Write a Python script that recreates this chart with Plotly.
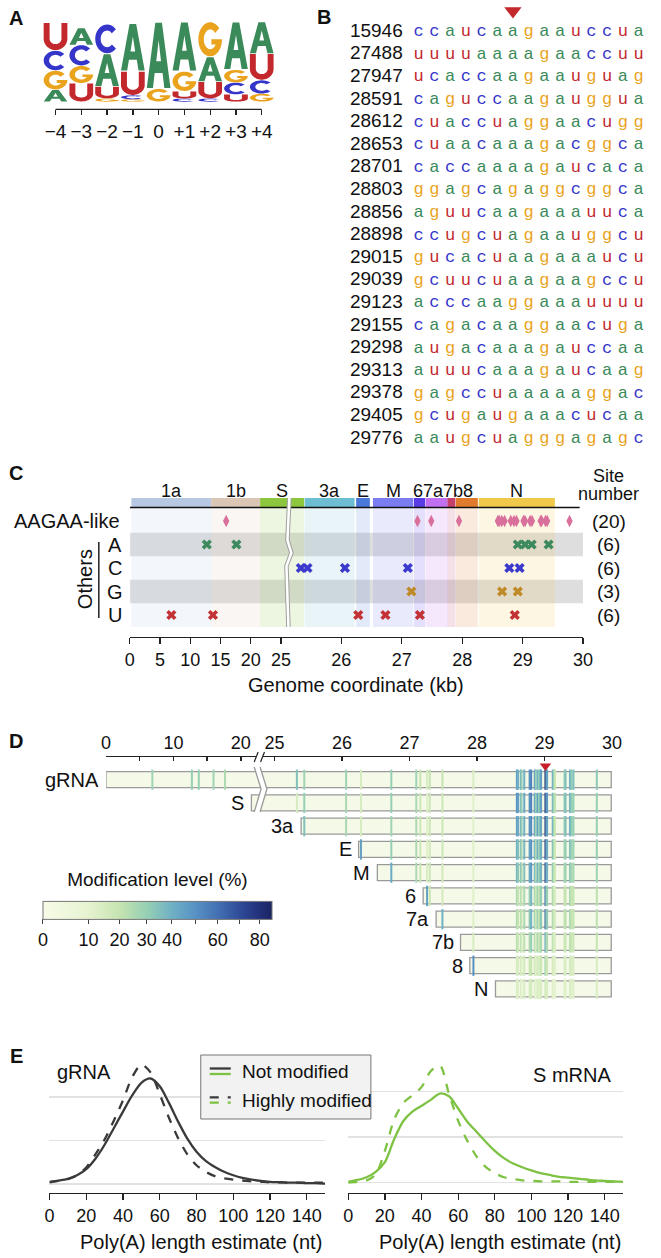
import numpy as np
import plotly.graph_objects as go

W, H = 661, 1258
FONT = "Liberation Sans, Arial, Helvetica, sans-serif"
MONO = "Liberation Mono, DejaVu Sans Mono, monospace"

# ======================= DATA =======================
# --- Panel A: sequence logo (letter heights as fraction of column)
logo_ticks = ["−4", "−3", "−2", "−1", "0", "+1", "+2", "+3", "+4"]
logo_stack = ["AGCU", "UGCA", "GUAC", "GCUA", "GA", "CUGA", "CUAG", "UCGA", "GCUA"]
logo_A = [0.15, 0.21, 0.41, 0.60, 0.84, 0.62, 0.31, 0.60, 0.40]
logo_C = [0.25, 0.26, 0.37, 0.05, 0.00, 0.04, 0.04, 0.15, 0.17]
logo_G = [0.24, 0.22, 0.04, 0.03, 0.16, 0.25, 0.44, 0.16, 0.10]
logo_U = [0.35, 0.23, 0.15, 0.30, 0.00, 0.09, 0.21, 0.09, 0.33]

# --- Panel B: sequences around sites
site_ids = ["15946", "27488", "27947", "28591", "28612", "28653", "28701", "28803",
            "28856", "28898", "29015", "29039", "29123", "29155", "29298", "29313",
            "29378", "29405", "29776"]
site_seqs = ["ccaucaagaauccua", "uuuuaaaagaaccuu", "ucaccaagaauguag", "caguccaagauggua",
             "cuaccuaggaacugg", "cuaacaaagacggca", "caccaaaagaucaca", "ggagcagaggcggca",
             "aguucaagaaauuca", "ccugcuagaauggcu", "gucacuaagaaaucu", "gcuucuaagaagccu",
             "acccaaggaaauuuu", "cagacaaggaacuga", "augacaaagauccaa", "auuucaaagaucaag",
             "gagccuaaaaaggac", "gcugaugaaacucaa", "aaugcuagggagagc"]
mod_col = 7

# --- Panel C: genes and sites (kb)
gene_names = ["1a", "1b", "S", "3a", "E", "M", "6", "7a", "7b", "8", "N"]
gene_start = [0.266, 13.468, 21.563, 25.393, 26.245, 26.523, 27.202, 27.394, 27.756, 27.894, 28.274]
gene_end = [13.483, 21.555, 25.384, 26.220, 26.472, 27.191, 27.387, 27.759, 27.887, 28.259, 29.533]
gene_colors = ["#b7c9e2", "#dbc6b6", "#8cc63f", "#6dbdd3", "#4a78d8", "#7b7cf0",
               "#5a3ce6", "#c070f0", "#c6406e", "#e07b2e", "#f0c84a"]
aagaa_sites = [15.946, 27.26, 27.488, 27.947, 28.591, 28.612, 28.653, 28.701, 28.803, 28.856,
               28.898, 29.015, 29.039, 29.123, 29.155, 29.298, 29.313, 29.378, 29.405, 29.776]
others_A = [12.74, 17.64, 28.92, 29.04, 29.15, 29.43]
others_C = [25.33, 25.44, 26.06, 27.10, 28.78, 28.95]
others_G = [27.16, 28.66, 28.92]
others_U = [6.88, 13.76, 26.28, 26.73, 27.30, 28.87]
c_ticks_kb = [0, 5, 10, 15, 20, 25, 26, 27, 28, 29, 30]

# --- Panel D: modification levels (%) per RNA at each site
rna_names = ["gRNA", "S", "3a", "E", "M", "6", "7a", "7b", "8", "N"]
rna_start = [0.0, 21.563, 25.393, 26.245, 26.523, 27.202, 27.394, 27.756, 27.894, 28.274]
genome_end = 29.99
top_site = 29.015
mod_sites = [6.88, 12.74, 13.76, 15.946, 17.64, 25.33, 25.44, 26.06, 26.28, 26.73,
             27.10, 27.16, 27.26, 27.30, 27.488, 27.947, 28.591, 28.612, 28.653, 28.66,
             28.701, 28.78, 28.803, 28.856, 28.87, 28.898, 28.92, 28.94, 28.95, 29.015,
             29.03, 29.039, 29.123, 29.14, 29.155, 29.298, 29.313, 29.378, 29.405, 29.43, 29.776]
lvl_gRNA = [28, 30, 30, 28, 25, 35, 28, 28, 15, 30, 28, 20, 15, 20, 20, 14, 45, 40, 45, 30,
            40, 50, 55, 50, 30, 40, 30, 40, 45, 82, 40, 45, 40, 30, 20, 30, 35, 40, 30, 35, 32]
lvl_S = [None] * 5 + [15, 30, 26, 15, 30, 26, 18, 12, 18, 18, 12, 50, 45, 40, 30, 42, 50, 55,
                      48, 30, 45, 30, 38, 45, 80, 42, 48, 38, 28, 22, 32, 35, 38, 30, 30, 30]
lvl_3a = [None] * 6 + [35, 26, 15, 28, 25, 18, 12, 18, 18, 12, 45, 42, 45, 30, 40, 50, 52, 48,
                       28, 45, 30, 38, 42, 80, 40, 45, 40, 28, 20, 30, 35, 40, 30, 30, 30]
lvl_E = [None] * 8 + [45, 30, 25, 18, 12, 16, 18, 12, 40, 35, 40, 25, 38, 45, 50, 42, 25, 40,
                      28, 35, 40, 75, 38, 42, 35, 25, 18, 28, 30, 35, 28, 28, 30]
lvl_M = [None] * 9 + [42, 25, 18, 14, 18, 16, 12, 38, 32, 40, 25, 35, 42, 48, 40, 25, 38, 28,
                      35, 38, 72, 36, 40, 32, 22, 18, 26, 28, 32, 26, 26, 28]
lvl_6 = [None] * 12 + [45, 20, 16, 12, 25, 20, 28, 18, 25, 30, 38, 28, 18, 28, 20, 25, 30, 60,
                       28, 30, 25, 18, 15, 20, 20, 25, 20, 20, 22]
lvl_7a = [None] * 14 + [40, 12, 25, 20, 28, 18, 25, 32, 40, 30, 18, 28, 20, 25, 32, 62, 28, 32,
                        25, 18, 15, 20, 22, 25, 20, 20, 22]
lvl_7b = [None] * 15 + [15, 22, 18, 25, 15, 22, 25, 30, 25, 15, 25, 18, 22, 25, 42, 25, 25, 22,
                        15, 14, 18, 18, 22, 18, 18, 20]
lvl_8 = [None] * 15 + [50, 15, 14, 18, 12, 16, 18, 20, 18, 12, 16, 14, 15, 18, 28, 16, 18, 16,
                       12, 12, 14, 14, 16, 14, 14, 15]
lvl_N = [None] * 16 + [14, 12, 15, 10, 14, 15, 16, 14, 10, 14, 12, 12, 14, 18, 12, 14, 12, 10,
                       10, 12, 12, 14, 12, 12, 14]
cb_ticks = [0, 10, 20, 30, 40, 50, 60, 70, 80]
cb_text = ["0", "10", "20", "30", "40", "", "60", "", "80"]
cb_max = 86
d_ticks_kb = [0, 5, 10, 15, 20, 25, 26, 27, 28, 29, 30]
d_tick_text = ["0", "", "10", "", "20", "25", "26", "27", "28", "29", "30"]

# --- Panel E: poly(A) length density
polyA_nt = [0, 5, 10, 15, 20, 25, 30, 35, 40, 45, 50, 55, 60, 65, 70, 75, 80, 85, 90, 95,
            100, 105, 110, 115, 120, 125, 130, 135, 140, 145, 150]
grna_not = [0.5, 0.8, 1.2, 2.0, 3.4, 5.8, 9.0, 12.8, 16.6, 20.3, 23.2, 24.2, 22.4, 18.6, 14.3,
            10.4, 7.4, 5.3, 3.9, 2.8, 2.0, 1.4, 1.0, 0.7, 0.5, 0.4, 0.3, 0.3, 0.2, 0.2, 0.1]
grna_high = [0.4, 0.7, 1.1, 2.0, 3.8, 6.8, 10.2, 14.5, 19.2, 24.5, 27.4, 25.6, 20.6, 15.2, 10.5,
             6.8, 4.3, 2.8, 1.8, 1.3, 1.0, 0.8, 0.6, 0.5, 0.4, 0.4, 0.3, 0.3, 0.3, 0.3, 0.3]
s_not = [0.2, 0.6, 1.2, 2.4, 4.5, 9.5, 13.5, 15.6, 16.9, 18.2, 19.6, 19.0, 16.3, 13.4, 11.2,
         9.0, 7.0, 5.4, 4.2, 3.4, 2.7, 2.1, 1.7, 1.3, 1.1, 0.9, 0.7, 0.5, 0.4, 0.3, 0.2]
s_high = [0.0, 0.2, 0.5, 1.8, 7.0, 13.8, 17.5, 19.2, 21.0, 24.5, 25.8, 19.5, 13.6, 9.2, 5.8,
          3.5, 2.1, 1.2, 0.8, 0.5, 0.4, 0.3, 0.3, 0.3, 0.2, 0.2, 0.2, 0.2, 0.2, 0.2, 0.2]
e_ticks = [0, 20, 40, 60, 80, 100, 120, 140]

# ======================= HELPERS =======================
NUC_COL = {"A": "#3b8a5a", "C": "#3535c9", "G": "#e9a31d", "U": "#c3282d"}
CS = [[0, "#f7fbe8"], [0.2, "#e6f3d0"], [0.336, "#c5e4b0"], [0.455, "#95cfb4"],
      [0.565, "#6fb0c5"], [0.66, "#5893c4"], [0.768, "#436fb2"], [0.86, "#2f4b98"],
      [0.95, "#212f78"], [1, "#1b2563"]]
CMAX = cb_max ** 0.75
DARK = "#3a3a3a"
GREEN = "#7dc242"
LABEL_NUDGE = {"6": -1.5, "7a": -3.5, "7b": 2.0, "8": 1.5}


def disp(kb):
    kb = np.asarray(kb, dtype=float)
    return np.where(kb <= 25, kb, 25 + (kb - 25) * 10)


def lin_range(p_lo, p_hi, v1, p1, v2, p2):
    s = (v2 - v1) / (p2 - p1)
    return [v1 + (p_lo - p1) * s, v1 + (p_hi - p1) * s]


def px_val(p, v1, p1, v2, p2):
    return v1 + (p - p1) * (v2 - v1) / (p2 - p1)


def xdom(a, b):
    return [a / W, b / W]


def ydom(top, bottom):
    return [1 - bottom / H, 1 - top / H]


def PX(p):
    return p / W


def PY(p):
    return 1 - p / H


def rgba(hx, a):
    hx = hx.lstrip("#")
    r, g, b = int(hx[0:2], 16), int(hx[2:4], 16), int(hx[4:6], 16)
    return f"rgba({r},{g},{b},{a})"


def ann(x, y, text, size=20, xanchor="center", yanchor="middle", **kw):
    d = dict(x=PX(x), y=PY(y), xref="paper", yref="paper", text=text, showarrow=False,
             font=dict(size=size, family=FONT, color="#111"), xanchor=xanchor, yanchor=yanchor)
    d.update(kw)
    return d


def arc(cx, cy, rx, ry, a0, a1, n=30):
    t = np.radians(np.linspace(a0, a1, n))
    return list(zip(cx + rx * np.cos(t), cy + ry * np.sin(t)))


GLYPHS = {
    "A": [[(0, 0), (0.36, 1), (0.64, 1), (1, 0), (0.74, 0), (0.665, 0.23), (0.335, 0.23), (0.26, 0)],
          [(0.40, 0.41), (0.60, 0.41), (0.5, 0.73)]],
    "C": [arc(.5, .5, .5, .5, 42, 318) + arc(.5, .5, .27, .29, 318, 42)],
    "G": [arc(.5, .5, .5, .5, 40, 360) + [(0.55, 0.5), (0.55, 0.35)] + arc(.5, .5, .27, .29, 328.9, 40)],
    "U": [[(0, 1), (0.25, 1)] + arc(.5, .42, .25, .2, 180, 360) + [(0.75, 1), (1, 1)]
          + arc(.5, .42, .5, .42, 0, -180)],
}


def glyph_path(letter, xc, y0, h, wf=0.92):
    out = ""
    for ring in GLYPHS[letter]:
        pts = [(xc - wf / 2 + gx * wf, y0 + h * (0.015 + 0.97 * gy)) for gx, gy in ring]
        out += "M" + "L".join(f"{x:.4f},{y:.5f}" for x, y in pts) + "Z"
    return out


def path_px(points):
    return "M" + "L".join(f"{PX(x):.5f},{PY(y):.5f}" for x, y in points)


traces, shapes, annots = [], [], []

# ======================= PANEL A =======================
logo_h = {"A": logo_A, "C": logo_C, "G": logo_G, "U": logo_U}
for i, order in enumerate(logo_stack):
    xc = i - 4
    y0 = 0.0
    for nuc in order:
        h = logo_h[nuc][i]
        if h > 0:
            shapes.append(dict(type="path", path=glyph_path(nuc, xc, y0, h), xref="x", yref="y",
                               fillcolor=NUC_COL[nuc], line=dict(width=0), layer="above"))
        y0 += h
shapes.append(dict(type="line", xref="x", yref="paper", x0=-4, x1=4, y0=PY(109.3), y1=PY(109.3),
                   line=dict(color="#222", width=1.3)))
traces.append(go.Scatter(x=[-4, 4], y=[0, 0], mode="markers", marker=dict(opacity=0),
                         xaxis="x", yaxis="y", hoverinfo="skip", showlegend=False))

# ======================= PANEL B =======================
bx, by, bt, bc = [], [], [], []
for r, s in enumerate(site_seqs):
    for j, ch in enumerate(s):
        bx.append(j + 1)
        by.append(r)
        bt.append(ch)
        bc.append(NUC_COL[ch.upper()])
traces.append(go.Scatter(x=bx, y=by, text=bt, mode="text", cliponaxis=False,
                         textfont=dict(family=MONO, size=17, color=bc),
                         xaxis="x2", yaxis="y2", hoverinfo="skip", showlegend=False))
xnum = px_val(407, 1, 423.3, 15, 648.3)
traces.append(go.Scatter(x=[xnum] * len(site_ids), y=list(range(len(site_ids))), text=site_ids,
                         mode="text", textposition="middle left", cliponaxis=False,
                         textfont=dict(family=FONT, size=19, color="#111"),
                         xaxis="x2", yaxis="y2", hoverinfo="skip", showlegend=False))
traces.append(go.Scatter(x=[mod_col], y=[px_val(11, 0, 32, 18, 438.8)], mode="markers",
                         marker=dict(symbol="triangle-down", size=15, color="#c3282d"),
                         cliponaxis=False, xaxis="x2", yaxis="y2", hoverinfo="skip", showlegend=False))

# ======================= PANEL C =======================
gs, ge = disp(gene_start), disp(gene_end)
for r in (1, 3):
    shapes.append(dict(type="rect", xref="x3", yref="y3", x0=0, x1=75, y0=r - 0.5, y1=r + 0.5,
                       fillcolor="#dedede", line=dict(width=0), layer="below"))
for a, b, c in zip(gs, ge, gene_colors):
    shapes.append(dict(type="rect", xref="x3", yref="y3", x0=float(a), x1=float(b), y0=-0.574,
                       y1=4.51, fillcolor=rgba(c, 0.16), line=dict(width=0), layer="below"))
shapes.append(dict(type="line", xref="x3", yref="y3", x0=0, x1=px_val(588, 0, 127.7, 75, 591.5),
                   y0=-0.574, y1=-0.574, line=dict(color="#111", width=1.4)))
traces.append(go.Bar(orientation="h", y=[-0.787] * len(gene_names), base=gs, x=ge - gs, width=0.383,
                     marker=dict(color=gene_colors, line=dict(width=0)), xaxis="x3", yaxis="y3",
                     hoverinfo="skip", showlegend=False))
for nm, a, b in zip(gene_names, gs, ge):
    annots.append(dict(x=float((a + b) / 2), xref="x3", y=PY(491), yref="paper", text=nm,
                       showarrow=False, xanchor="center", xshift=LABEL_NUDGE.get(nm, 0),
                       font=dict(size=18, family=FONT, color="#111")))
traces.append(go.Scatter(x=disp(aagaa_sites), y=[0] * len(aagaa_sites), mode="markers",
                         marker=dict(symbol="diamond-tall", size=9, color="#d9709c"),
                         xaxis="x3", yaxis="y3", hoverinfo="skip", showlegend=False))
other_sets = [("A", others_A, 1, "#3e8a5f"), ("C", others_C, 2, "#3c3acd"),
              ("G", others_G, 3, "#c08a28"), ("U", others_U, 4, "#c33235")]
for nm, arr, row, col in other_sets:
    traces.append(go.Scatter(x=disp(arr), y=[row] * len(arr), mode="markers",
                             marker=dict(symbol="x", size=9, color=col, line=dict(width=0)),
                             xaxis="x3", yaxis="y3", hoverinfo="skip", showlegend=False))
annots.append(dict(x=PX(120), xref="paper", y=0, yref="y3", text="AAGAA-like", showarrow=False,
                   xanchor="right", font=dict(size=20, family=FONT, color="#111")))
counts = [len(aagaa_sites)] + [len(s[1]) for s in other_sets]
for row, cnt in enumerate(counts):
    annots.append(dict(x=PX(617.6), xref="paper", y=row, yref="y3", text=f"({cnt})",
                       showarrow=False, xanchor="center",
                       font=dict(size=19, family=FONT, color="#111")))
for nm, arr, row, col in other_sets:
    annots.append(dict(x=PX(113), xref="paper", y=row, yref="y3", text=nm, showarrow=False,
                       xanchor="center", font=dict(size=20, family=FONT, color="#111")))
annots.append(ann(82, 579, "Others", textangle=-90))
shapes.append(dict(type="line", xref="paper", yref="paper", x0=PX(96), x1=PX(96), y0=PY(542),
                   y1=PY(618), line=dict(color="#111", width=1.4)))
annots.append(ann(617.6, 476, "Site", size=18))
annots.append(ann(617.6, 494, "number", size=18))
annots.append(ann(359.6, 685, "Genome coordinate (kb)"))
zz = [(291, 498), (289, 540), (293, 553), (288, 566), (290, 627)]
shapes.append(dict(type="path", xref="paper", yref="paper", path=path_px(zz),
                   line=dict(color="#a0a0a0", width=4.5)))
shapes.append(dict(type="path", xref="paper", yref="paper", path=path_px(zz),
                   line=dict(color="#ffffff", width=2.5)))

# ======================= PANEL D =======================
rs = disp(rna_start)
re_ = disp([genome_end] * len(rna_names))
traces.append(go.Bar(orientation="h", y=list(range(len(rna_names))), base=rs, x=re_ - rs, width=0.69,
                     marker=dict(color="#f5fae8", line=dict(color="#9a9a9a", width=1.3)),
                     xaxis="x4", yaxis="y4", hoverinfo="skip", showlegend=False))
levels = [lvl_gRNA, lvl_S, lvl_3a, lvl_E, lvl_M, lvl_6, lvl_7a, lvl_7b, lvl_8, lvl_N]
cbar = dict(orientation="h", x=PX(38.8), xanchor="left", y=PY(950.7), yanchor="bottom",
            len=(273.2 - 38.8) / W, lenmode="fraction", thickness=17.7, thicknessmode="pixels",
            outlinewidth=1, outlinecolor="#777", ticks="outside", ticklen=5, tickwidth=1,
            tickcolor="#444", tickvals=[v ** 0.75 for v in cb_ticks], ticktext=cb_text,
            tickfont=dict(size=18, family=FONT, color="#111"),
            title=dict(text="Modification level (%)", side="top", font=dict(size=19, family=FONT)),
            xpad=0, ypad=0)
for r, lv in enumerate(levels):
    idx = [i for i, v in enumerate(lv) if v is not None]
    xs = disp([mod_sites[i] for i in idx])
    t = [lv[i] ** 0.75 for i in idx]
    mk = dict(symbol="line-ns", size=14.5, color=t, colorscale=CS, cmin=0, cmax=CMAX,
              line=dict(width=2, color=t, colorscale=CS, cmin=0, cmax=CMAX))
    if r == 0:
        mk["showscale"] = True
        mk["colorbar"] = cbar
    traces.append(go.Scatter(x=xs, y=[r] * len(idx), mode="markers", marker=mk,
                             xaxis="x4", yaxis="y4", hoverinfo="skip", showlegend=False))
for r, (nm, st) in enumerate(zip(rna_names, rs)):
    annots.append(dict(x=float(st), xref="x4", y=r, yref="y4", text=nm, showarrow=False,
                       xanchor="right", xshift=-5, font=dict(size=20, family=FONT, color="#111")))
traces.append(go.Scatter(x=disp([top_site]), y=[px_val(766, 0, 779.7, 1, 802.95)], mode="markers",
                         marker=dict(symbol="triangle-down", size=10, color="#c8202a"),
                         cliponaxis=False, xaxis="x4", yaxis="y4", hoverinfo="skip", showlegend=False))
L = [(255, 767), (262, 789), (255, 812)]
R = [(x + 6, y) for x, y in L]
shapes.append(dict(type="path", xref="paper", yref="paper", path=path_px(L + R[::-1]) + "Z",
                   fillcolor="white", line=dict(width=0)))
for pl in (L, R):
    shapes.append(dict(type="path", xref="paper", yref="paper", path=path_px(pl),
                       line=dict(color="#9a9a9a", width=1.3)))
shapes.append(dict(type="rect", xref="paper", yref="paper", x0=PX(257.5), x1=PX(264), y0=PY(760),
                   y1=PY(754), fillcolor="white", line=dict(width=0)))
for x0 in (255, 261.5):
    shapes.append(dict(type="line", xref="paper", yref="paper", x0=PX(x0), x1=PX(x0 + 4),
                       y0=PY(762), y1=PY(752), line=dict(color="#222", width=1.2)))

# ======================= PANEL E =======================
for xa, ya, ys_not, ys_high, col in (("x5", "y5", grna_not, grna_high, DARK),
                                    ("x6", "y6", s_not, s_high, GREEN)):
    traces.append(go.Scatter(x=polyA_nt, y=[v / 1000 for v in ys_not], mode="lines",
                             line=dict(color=col, width=2.3, shape="spline", smoothing=0.8),
                             xaxis=xa, yaxis=ya, hoverinfo="skip", showlegend=False))
    traces.append(go.Scatter(x=polyA_nt, y=[v / 1000 for v in ys_high], mode="lines",
                             line=dict(color=col, width=2.3, dash="dash", shape="spline", smoothing=0.8),
                             xaxis=xa, yaxis=ya, hoverinfo="skip", showlegend=False))
annots.append(ann(81, 1072, "gRNA"))
annots.append(ann(580, 1075, "S mRNA"))
annots.append(ann(201, 1242, "Poly(A) length estimate (nt)"))
annots.append(ann(507, 1242, "Poly(A) length estimate (nt)"))
shapes.append(dict(type="rect", xref="paper", yref="paper", x0=PX(200.3), x1=PX(374.4), y0=PY(1119),
                   y1=PY(1055), fillcolor="#f2f2f2", line=dict(color="#777", width=1)))
for yy, col, dash in ((1068.5, DARK, "solid"), (1074, GREEN, "solid"),
                      (1097.3, DARK, "dash"), (1102.7, GREEN, "dash")):
    shapes.append(dict(type="line", xref="paper", yref="paper", x0=PX(209.5), x1=PX(231),
                       y0=PY(yy), y1=PY(yy), line=dict(color=col, width=2.3, dash=dash)))
annots.append(ann(240.3, 1071.5, "Not modified", size=19, xanchor="left"))
annots.append(ann(240.3, 1100, "Highly modified", size=19, xanchor="left"))

for lab, x, y in (("A", 11.5, 18), ("B", 326, 17), ("C", 11.6, 473), ("D", 11.6, 741), ("E", 11.6, 1056)):
    annots.append(ann(x, y, f"<b>{lab}</b>", size=20))

# ======================= LAYOUT =======================
HID = dict(visible=False, showgrid=False, zeroline=False, fixedrange=True)
TF = dict(size=18, family=FONT, color="#111")
layout = dict(
    width=W, height=H, margin=dict(l=0, r=0, t=0, b=0), autosize=False,
    paper_bgcolor="white", plot_bgcolor="rgba(0,0,0,0)", showlegend=False,
    barmode="overlay", font=dict(family=FONT, color="#111"),
    xaxis=dict(domain=xdom(36, 282), range=lin_range(36, 282, -4, 51.7, 4, 262.7), anchor="y",
               showgrid=False, zeroline=False, showline=False, tickmode="array",
               tickvals=list(range(-4, 5)), ticktext=logo_ticks, ticks="outside", ticklen=5,
               tickwidth=1.3, tickcolor="#222", tickfont=dict(size=19, family=FONT, color="#111")),
    yaxis=dict(HID, domain=ydom(16, 109.3), range=lin_range(109.3, 16, 0, 101.7, 1, 21.7), anchor="x"),
    xaxis2=dict(HID, domain=xdom(300, 661), range=lin_range(300, 661, 1, 423.3, 15, 648.3), anchor="y2"),
    yaxis2=dict(HID, domain=ydom(0, 452), range=lin_range(452, 0, 0, 32, 18, 438.8), anchor="x2"),
    xaxis3=dict(domain=xdom(127.7, 591.5), range=[0, 75], anchor="y3", showline=True, linecolor="#222",
                linewidth=1.3, ticks="outside", ticklen=6, tickwidth=1.3, tickcolor="#222",
                tickmode="array", tickvals=disp(c_ticks_kb).tolist(),
                ticktext=[str(t) for t in c_ticks_kb], tickfont=TF, showgrid=False, zeroline=False),
    yaxis3=dict(HID, domain=ydom(470, 637), range=lin_range(637, 470, 0, 521, 1, 544.5), anchor="x3"),
    xaxis4=dict(domain=xdom(103.3, 621), range=[0, 75], anchor="y4", side="top", showline=True,
                linecolor="#222", linewidth=1.3, ticks="inside", ticklen=4, tickwidth=1.3,
                tickcolor="#222", tickmode="array", tickvals=disp(d_ticks_kb).tolist(),
                ticktext=d_tick_text, tickfont=TF, showgrid=False, zeroline=False),
    yaxis4=dict(HID, domain=ydom(757, 1000), range=lin_range(1000, 757, 0, 779.7, 1, 802.95), anchor="x4"),
    xaxis5=dict(domain=xdom(45.5, 327.6), range=[0, 150], anchor="y5", showline=True, linecolor="#222",
                linewidth=1.3, ticks="outside", ticklen=6, tickwidth=1.3, tickcolor="#222",
                tickmode="array", tickvals=e_ticks, tickfont=TF, showgrid=False, zeroline=False),
    yaxis5=dict(domain=ydom(1050, 1193), range=lin_range(1193, 1050, 0, 1184, 0.01, 1140.4),
                anchor="x5", showgrid=True, gridcolor="#e2e2e2", gridwidth=1.5, tickmode="array",
                tickvals=[0, 0.01, 0.02], showticklabels=False, zeroline=False, showline=False),
    xaxis6=dict(domain=xdom(351.2, 632.4), range=[0, 150], anchor="y6", showline=True, linecolor="#222",
                linewidth=1.3, ticks="outside", ticklen=6, tickwidth=1.3, tickcolor="#222",
                tickmode="array", tickvals=e_ticks, tickfont=TF, showgrid=False, zeroline=False),
    yaxis6=dict(domain=ydom(1050, 1193), range=lin_range(1193, 1050, 0, 1182.7, 0.01, 1137.2),
                anchor="x6", showgrid=True, gridcolor="#e2e2e2", gridwidth=1.5, tickmode="array",
                tickvals=[0, 0.01, 0.02], showticklabels=False, zeroline=False, showline=False),
    shapes=shapes, annotations=annots,
)

fig = go.Figure(data=traces, layout=layout)
fig.write_html("out.html", config={"displayModeBar": False, "staticPlot": True},
               post_script="document.body.style.margin='0px';")
